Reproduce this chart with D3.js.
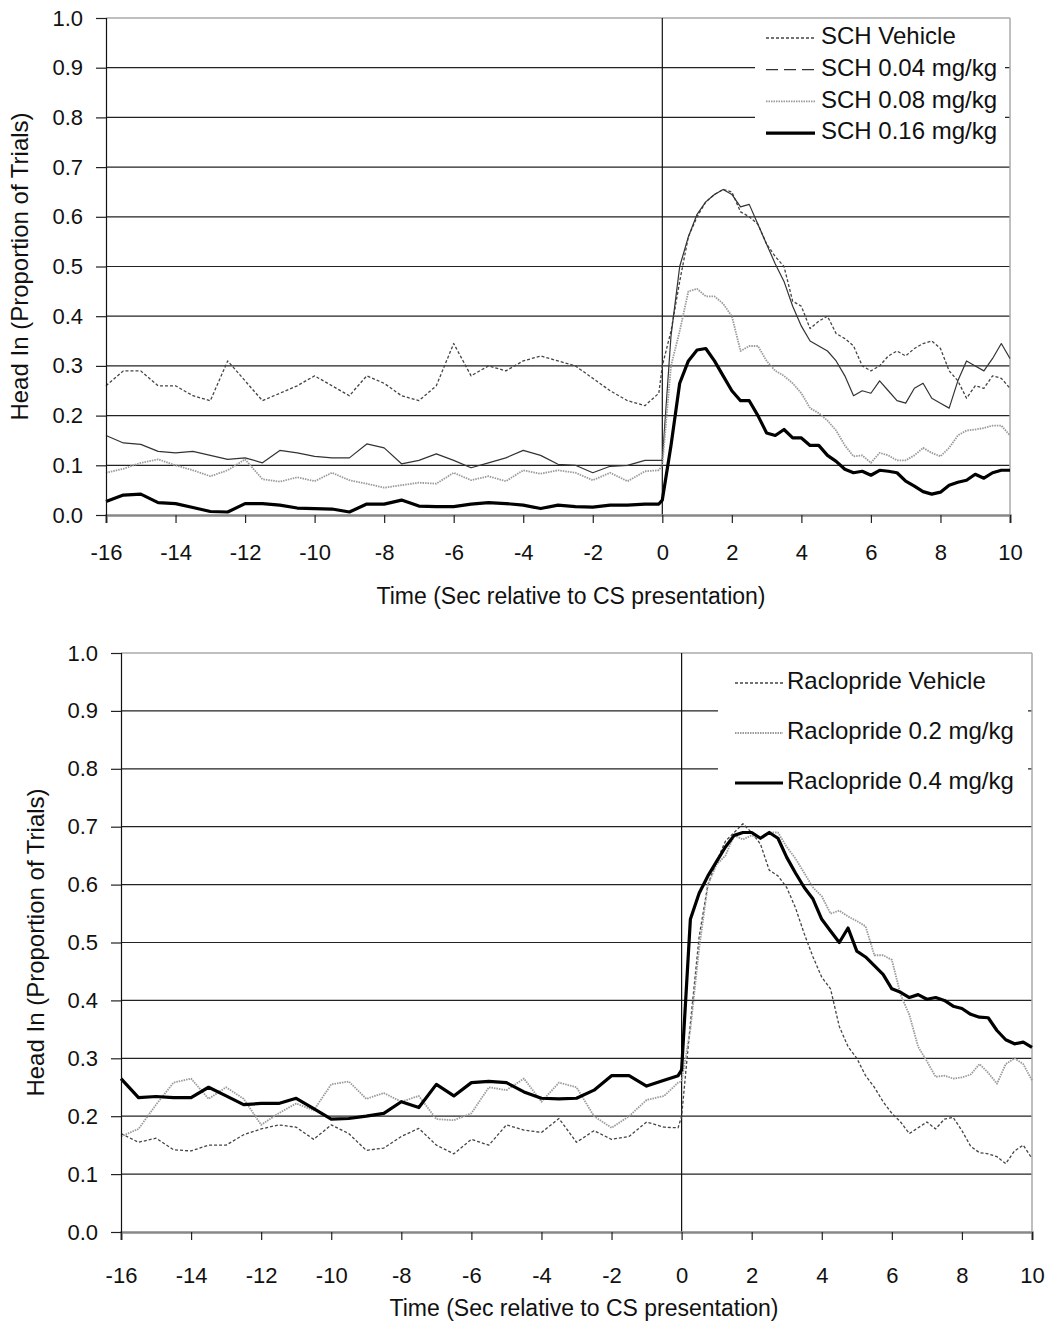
<!DOCTYPE html>
<html>
<head>
<meta charset="utf-8">
<style>
  body { margin: 0; background: #fff; }
  text { font-family: "Liberation Sans", Arial, sans-serif; fill: #111; }
</style>
</head>
<body>
<svg id="chart" width="1053" height="1328"></svg>
<script src="https://cdn.jsdelivr.net/npm/d3@7"></script>
<script>
// sample times (s relative to CS)
const sampleTimes = [-16, -15.5, -15, -14.5, -14, -13.5, -13, -12.5, -12, -11.5, -11, -10.5, -10, -9.5, -9, -8.5,
  -8, -7.5, -7, -6.5, -6, -5.5, -5, -4.5, -4, -3.5, -3, -2.5, -2, -1.5, -1, -0.5, -0.1,
  0, 0.25, 0.5, 0.75, 1, 1.25, 1.5, 1.75, 2, 2.25, 2.5, 2.75, 3, 3.25, 3.5, 3.75, 4, 4.25, 4.5, 4.75,
  5, 5.25, 5.5, 5.75, 6, 6.25, 6.5, 6.75, 7, 7.25, 7.5, 7.75, 8, 8.25, 8.5, 8.75, 9, 9.25, 9.5, 9.75, 10]

const xTicks = [-16, -14, -12, -10, -8, -6, -4, -2, 0, 2, 4, 6, 8, 10]
const yTicks = [0, 0.1, 0.2, 0.3, 0.4, 0.5, 0.6, 0.7, 0.8, 0.9, 1.0]

// top panel: SCH 23390
const schLabels = ["SCH Vehicle", "SCH 0.04 mg/kg", "SCH 0.08 mg/kg", "SCH 0.16 mg/kg"]
const schVehicle = [0.26, 0.29, 0.29, 0.26, 0.26, 0.24, 0.23, 0.31, 0.27, 0.23, 0.245, 0.26, 0.28, 0.26, 0.24, 0.28,
  0.265, 0.24, 0.23, 0.26, 0.345, 0.28, 0.30, 0.29, 0.31, 0.32, 0.31, 0.30, 0.275, 0.25, 0.23, 0.22, 0.245,
  0.30, 0.37, 0.47, 0.56, 0.60, 0.63, 0.645, 0.655, 0.65, 0.61, 0.60, 0.585, 0.545, 0.52, 0.50, 0.43, 0.42, 0.375, 0.39, 0.40,
  0.365, 0.355, 0.34, 0.30, 0.29, 0.30, 0.32, 0.33, 0.32, 0.335, 0.345, 0.35, 0.335, 0.29, 0.27, 0.235, 0.26, 0.255, 0.28, 0.275, 0.255]
const sch004 = [0.16, 0.145, 0.142, 0.128, 0.125, 0.128, 0.12, 0.112, 0.115, 0.105, 0.13, 0.125, 0.118, 0.115, 0.115, 0.143,
  0.135, 0.103, 0.11, 0.123, 0.11, 0.095, 0.105, 0.115, 0.13, 0.12, 0.102, 0.1, 0.085, 0.098, 0.1, 0.11, 0.11,
  0.11, 0.36, 0.50, 0.56, 0.605, 0.63, 0.645, 0.655, 0.645, 0.62, 0.625, 0.585, 0.545, 0.505, 0.47, 0.42, 0.38, 0.35, 0.34, 0.33,
  0.31, 0.28, 0.24, 0.25, 0.245, 0.27, 0.25, 0.23, 0.225, 0.255, 0.265, 0.235, 0.225, 0.215, 0.27, 0.31, 0.30, 0.29, 0.315, 0.345, 0.315]
const sch008 = [0.085, 0.093, 0.105, 0.112, 0.1, 0.09, 0.078, 0.09, 0.112, 0.072, 0.067, 0.076, 0.068, 0.085, 0.07, 0.063,
  0.055, 0.06, 0.065, 0.063, 0.085, 0.07, 0.078, 0.068, 0.09, 0.083, 0.09, 0.085, 0.07, 0.085, 0.068, 0.088, 0.09,
  0.10, 0.30, 0.37, 0.45, 0.455, 0.44, 0.44, 0.425, 0.40, 0.33, 0.34, 0.34, 0.31, 0.29, 0.28, 0.265, 0.245, 0.215, 0.205, 0.19,
  0.17, 0.14, 0.118, 0.12, 0.105, 0.125, 0.12, 0.11, 0.11, 0.12, 0.135, 0.125, 0.118, 0.135, 0.16, 0.17, 0.172, 0.175, 0.18, 0.18, 0.16]
const sch016 = [0.027, 0.04, 0.042, 0.025, 0.023, 0.015, 0.007, 0.006, 0.023, 0.023, 0.02, 0.014, 0.013, 0.012, 0.006, 0.022,
  0.022, 0.03, 0.018, 0.017, 0.017, 0.022, 0.025, 0.023, 0.02, 0.013, 0.02, 0.017, 0.016, 0.02, 0.02, 0.022, 0.022,
  0.03, 0.14, 0.265, 0.31, 0.332, 0.335, 0.31, 0.28, 0.25, 0.23, 0.23, 0.20, 0.165, 0.16, 0.172, 0.155, 0.155, 0.14, 0.14, 0.12,
  0.108, 0.092, 0.085, 0.088, 0.08, 0.09, 0.088, 0.085, 0.068, 0.058, 0.047, 0.042, 0.046, 0.06, 0.066, 0.07, 0.082, 0.074, 0.085, 0.09, 0.09]

// bottom panel: raclopride
const racLabels = ["Raclopride Vehicle", "Raclopride 0.2 mg/kg", "Raclopride 0.4 mg/kg"]
const racVehicle = [0.17, 0.155, 0.162, 0.142, 0.14, 0.15, 0.15, 0.168, 0.178, 0.185, 0.181, 0.16, 0.185, 0.17, 0.141, 0.145,
  0.165, 0.179, 0.15, 0.135, 0.16, 0.15, 0.185, 0.176, 0.172, 0.196, 0.155, 0.175, 0.16, 0.165, 0.19, 0.181, 0.18,
  0.20, 0.36, 0.51, 0.60, 0.64, 0.675, 0.69, 0.705, 0.69, 0.67, 0.625, 0.615, 0.595, 0.56, 0.515, 0.475, 0.44, 0.42, 0.355, 0.32,
  0.30, 0.27, 0.25, 0.225, 0.205, 0.19, 0.17, 0.18, 0.19, 0.178, 0.195, 0.198, 0.175, 0.148, 0.137, 0.135, 0.13, 0.118, 0.14, 0.15, 0.127]
const rac02 = [0.165, 0.178, 0.22, 0.258, 0.265, 0.23, 0.25, 0.23, 0.185, 0.205, 0.222, 0.21, 0.255, 0.26, 0.23, 0.24,
  0.225, 0.235, 0.195, 0.193, 0.205, 0.25, 0.245, 0.265, 0.225, 0.258, 0.25, 0.2, 0.18, 0.2, 0.228, 0.235, 0.258,
  0.26, 0.35, 0.49, 0.60, 0.635, 0.65, 0.685, 0.678, 0.685, 0.68, 0.69, 0.69, 0.665, 0.645, 0.62, 0.595, 0.58, 0.55, 0.555, 0.545,
  0.537, 0.528, 0.478, 0.478, 0.47, 0.41, 0.375, 0.32, 0.295, 0.268, 0.27, 0.265, 0.267, 0.272, 0.29, 0.275, 0.256, 0.29, 0.30, 0.29, 0.262]
const rac04 = [0.265, 0.232, 0.234, 0.232, 0.232, 0.25, 0.235, 0.22, 0.222, 0.222, 0.231, 0.213, 0.195, 0.196, 0.2, 0.205,
  0.225, 0.215, 0.255, 0.235, 0.258, 0.26, 0.258, 0.242, 0.231, 0.23, 0.231, 0.245, 0.27, 0.27, 0.252, 0.262, 0.27,
  0.28, 0.54, 0.585, 0.615, 0.64, 0.665, 0.685, 0.69, 0.69, 0.68, 0.69, 0.68, 0.647, 0.62, 0.595, 0.575, 0.54, 0.52, 0.50, 0.525,
  0.485, 0.475, 0.46, 0.445, 0.42, 0.414, 0.405, 0.41, 0.402, 0.405, 0.40, 0.39, 0.386, 0.376, 0.371, 0.37, 0.348, 0.332, 0.325, 0.328, 0.319]

// line looks
const vehicleStyle = { stroke: "#444", width: 1.3, dash: "3,2" }
const lowStyle = { stroke: "#333", width: 1.2, dash: null, legendDash: "12,6" }
const midStyle = { stroke: "#9a9a9a", width: 1.8, dash: "1.5,1" }
const highStyle = { stroke: "#000", width: 3.2, dash: null }

const svg = d3.select("#chart")
svg.append("rect").attr("width", 1053).attr("height", 1328).attr("fill", "#fff")

drawPanel({
  left: 106, right: 1010, top: 18, bottom: 515,
  series: [
    { name: schLabels[0], values: schVehicle, style: vehicleStyle },
    { name: schLabels[1], values: sch004, style: lowStyle },
    { name: schLabels[2], values: sch008, style: midStyle },
    { name: schLabels[3], values: sch016, style: highStyle }
  ],
  legend: { x0: 755, x1: 1005, y0: 22, y1: 152, rowY: 38, rowGap: 31.7, sx0: 766, sx1: 815, tx: 821 },
  yTitleX: 22, xLabelPad: 21, xTitleY: 598, xTitleX: 571
})

drawPanel({
  left: 121, right: 1032, top: 653, bottom: 1232,
  series: [
    { name: racLabels[0], values: racVehicle, style: vehicleStyle },
    { name: racLabels[1], values: rac02, style: midStyle },
    { name: racLabels[2], values: rac04, style: highStyle }
  ],
  legend: { x0: 718, x1: 1028, y0: 657, y1: 808, rowY: 683, rowGap: 50, sx0: 735, sx1: 783, tx: 787 },
  yTitleX: 38, xLabelPad: 27, xTitleY: 1310, xTitleX: 584
})

function drawPanel(p) {
  let x = d3.scaleLinear().domain([-16, 10]).range([p.left, p.right])
  let y = d3.scaleLinear().domain([0, 1]).range([p.bottom, p.top])
  let g = svg.append("g")

  // horizontal gridlines
  g.selectAll(".grid")
    .data(yTicks.filter(d => d > 0))
    .join("line")
    .attr("x1", p.left).attr("x2", p.right)
    .attr("y1", d => y(d)).attr("y2", d => y(d))
    .attr("stroke", d => d === 1 ? "#aaa" : "#222")
    .attr("stroke-width", d => d === 1 ? 1.5 : 1.2)

  // right border of the plot area
  g.append("line")
    .attr("x1", p.right).attr("x2", p.right)
    .attr("y1", y(1)).attr("y2", y(0))
    .attr("stroke", "#aaa").attr("stroke-width", 1.5)

  // legend box hides the gridlines behind it
  let lg = p.legend
  g.append("rect")
    .attr("x", lg.x0).attr("y", lg.y0)
    .attr("width", lg.x1 - lg.x0).attr("height", lg.y1 - lg.y0)
    .attr("fill", "#fff")

  // CS onset line
  g.append("line")
    .attr("x1", x(0)).attr("x2", x(0))
    .attr("y1", y(1)).attr("y2", y(0))
    .attr("stroke", "#111").attr("stroke-width", 1.2)

  let line = d3.line()
    .x((d, i) => x(sampleTimes[i]))
    .y(d => y(d))

  // thin lines first, thick one on top
  g.selectAll(".series")
    .data(p.series)
    .join("path")
    .attr("d", d => line(d.values))
    .attr("fill", "none")
    .attr("stroke", d => d.style.stroke)
    .attr("stroke-width", d => d.style.width)
    .attr("stroke-dasharray", d => d.style.dash)
    .attr("stroke-linejoin", "round")

  // x axis along 0.0 (plain hyphen for negatives, as in the original)
  let xAxis = g.append("g")
    .attr("transform", `translate(0,${y(0)})`)
    .call(d3.axisBottom(x).tickValues(xTicks).tickSize(8).tickPadding(p.xLabelPad).tickFormat(d => String(d)))
  xAxis.select(".domain").attr("stroke", "#888").attr("stroke-width", 2.5)
  xAxis.selectAll(".tick line").attr("stroke", "#222").attr("stroke-width", 1.2)
  xAxis.selectAll("text").attr("font-size", 22).attr("font-family", "Liberation Sans, Arial, sans-serif").attr("fill", "#111")

  // y axis
  let yAxis = g.append("g")
    .attr("transform", `translate(${p.left},0)`)
    .call(d3.axisLeft(y).tickValues(yTicks).tickSize(10).tickPadding(13).tickFormat(d3.format(".1f")))
  yAxis.select(".domain").attr("stroke", "#111").attr("stroke-width", 1.2)
  yAxis.selectAll(".tick line").attr("stroke", "#222").attr("stroke-width", 1.2)
  yAxis.selectAll("text").attr("font-size", 22).attr("font-family", "Liberation Sans, Arial, sans-serif").attr("fill", "#111")

  // axis titles
  g.append("text")
    .attr("transform", `translate(${p.yTitleX},${(y(0) + y(1)) / 2}) rotate(-90)`)
    .attr("text-anchor", "middle")
    .attr("dominant-baseline", "middle")
    .attr("font-size", 24)
    .text("Head In (Proportion of Trials)")

  g.append("text")
    .attr("x", p.xTitleX).attr("y", p.xTitleY)
    .attr("text-anchor", "middle")
    .attr("dominant-baseline", "middle")
    .attr("font-size", 23)
    .text("Time (Sec relative to CS presentation)")

  // legend
  let item = g.selectAll(".legend")
    .data(p.series)
    .join("g")
    .attr("transform", (d, i) => `translate(0,${lg.rowY + i * lg.rowGap})`)

  item.append("line")
    .attr("x1", lg.sx0).attr("x2", lg.sx1)
    .attr("stroke", d => d.style.stroke)
    .attr("stroke-width", d => d.style.width)
    .attr("stroke-dasharray", d => d.style.legendDash || d.style.dash)

  item.append("text")
    .attr("x", lg.tx)
    .attr("dominant-baseline", "middle")
    .attr("font-size", 24)
    .text(d => d.name)
}
</script>
</body>
</html>
